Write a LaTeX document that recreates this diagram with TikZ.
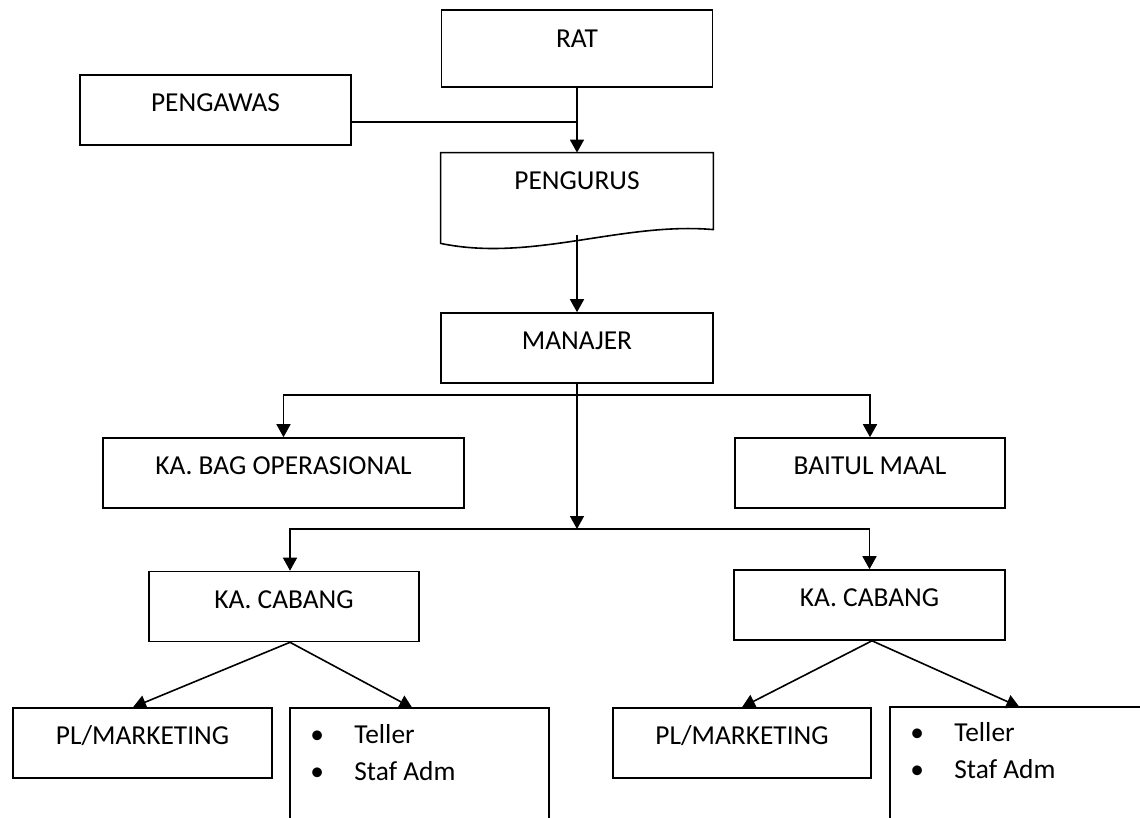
\documentclass[tikz,border=0pt]{standalone}
\usepackage{fontspec}
\setmainfont{Carlito}
\usetikzlibrary{arrows.meta}

\tikzset{
  orgbox/.style={draw, line width=0.8pt, inner xsep=0pt, inner ysep=0pt, text height=18.25pt, text depth=16.75pt},
  conn/.style={line width=0.8pt},
  arr/.style={conn, -{Triangle[length=6.5pt,width=7pt]}},
  listtext/.style={anchor=base west, inner sep=0pt, align=left}
}

\begin{document}
\begin{tikzpicture}[x=0.5pt, y=-0.5pt, font=\fontsize{13.7}{18.5}\selectfont]
    \useasboundingbox (0,0) rectangle (1140,818);
    \node[orgbox, minimum width=135.5pt, text height=19pt, text depth=19.5pt] (rat) at (577,48.5) {RAT};
    \node[orgbox, minimum width=135.5pt] (pengawas) at (215.5,110) {PENGAWAS};
    \node[inner sep=0pt, minimum width=136pt, text height=18.5pt, text depth=26.5pt] (pengurus) at (577,198) {PENGURUS};
    \draw[conn] (pengurus.south west) |- (pengurus.north east) -- ++(0,77) .. controls +(-91,-8) and +(91,19) .. (pengurus.south west) -- cycle;
    \node[orgbox, minimum width=136pt] (manajer) at (577,348) {MANAJER};
    \node[orgbox, minimum width=180.5pt] (kabag) at (283.5,473) {KA. BAG OPERASIONAL};
    \node[orgbox, minimum width=135pt] (baitul) at (870,473) {BAITUL MAAL};
    \node[orgbox, minimum width=135pt] (cabangL) at (284,606.5) {KA. CABANG};
    \node[orgbox, minimum width=135.5pt] (cabangR) at (869.5,605) {KA. CABANG};
    \node[orgbox, minimum width=129.5pt] (pmL) at (142.5,743) {PL/MARKETING};
    \node[orgbox, minimum width=129pt] (pmR) at (742,743) {PL/MARKETING};

    \node[minimum width=129pt, minimum height=60pt, inner sep=0pt, anchor=north west] (tellerL) at (290,708) {};
    \node[minimum width=129pt, minimum height=60pt, inner sep=0pt, anchor=north west] (tellerR) at (890,707) {};
    \draw[conn] (tellerL.south west) |- (tellerL.north east) -- (tellerL.south east);
    \draw[conn] (tellerR.south west) |- (tellerR.north east) -- (tellerR.south east);
    \node[listtext] (stafL) at ([shift={(20,72)}]tellerL.north west) {\makebox[22pt][l]{\textbullet}Teller\\\makebox[22pt][l]{\textbullet}Staf Adm};
    \node[listtext] (stafR) at ([shift={(20,71)}]tellerR.north west) {\makebox[22pt][l]{\textbullet}Teller\\\makebox[22pt][l]{\textbullet}Staf Adm};

    \coordinate (join) at (577,122);
    \coordinate (split1) at (577,395);
    \coordinate (split2) at (577,529);
    \draw[conn] (pengawas.east |- join) -- (join);
    \draw[arr] (rat.south) -- (pengurus.north);
    \draw[arr] ([yshift=4pt]pengurus.south) -- (manajer.north);
    \draw[arr] (split1) -| (kabag.north);
    \draw[arr] (split1) -| (baitul.north);
    \draw[arr] (manajer.south) -- (split2);
    \draw[arr] (split2) -| ([xshift=3pt]cabangL.north);
    \draw[arr] (split2) -| (cabangR.north);
    \draw[arr] ([xshift=3pt]cabangL.south) -- ([xshift=-4.75pt]pmL.north);
    \draw[arr] ([xshift=3pt]cabangL.south) -- ([xshift=-3.5pt]tellerL.north);
    \draw[arr] ([xshift=1.25pt]cabangR.south) -- (pmR.north);
    \draw[arr] ([xshift=1.25pt]cabangR.south) -- (tellerR.north);
\end{tikzpicture}
\end{document}
